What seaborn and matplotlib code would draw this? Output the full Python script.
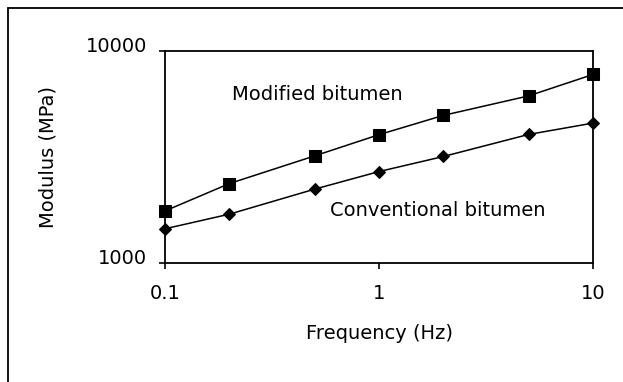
import numpy as np
import pandas as pd
import matplotlib
matplotlib.use("Agg")
import matplotlib.pyplot as plt
import matplotlib.transforms as mtransforms
from matplotlib.lines import Line2D
import seaborn as sns

# data
frequency = [0.1, 0.2, 0.5, 1, 2, 5, 10]
modified = [1760, 2370, 3200, 4030, 4970, 6140, 7750]
conventional = [1450, 1700, 2230, 2700, 3180, 4040, 4570]
x_ticks = [0.1, 1, 10]
x_tick_labels = ["0.1", "1", "10"]
y_ticks = [1000, 10000]
y_tick_labels = ["1000", "10000"]

sns.set_style("ticks")
plt.rcParams["font.family"] = ["DejaVu Sans"]
plt.rcParams["text.color"] = "black"
plt.rcParams["axes.labelcolor"] = "black"
FS = 14

fig = plt.figure(figsize=(6.23, 3.82), dpi=100)
ax = fig.add_axes([165 / 623, 1 - 263 / 382, 428 / 623, 212 / 382])

sns.lineplot(x=frequency, y=modified, ax=ax, color="black", lw=1.1,
             marker="s", markersize=8, markeredgecolor="black", clip_on=False)
sns.lineplot(x=frequency, y=conventional, ax=ax, color="black", lw=1.1,
             marker="D", markersize=6.5, markeredgecolor="black", clip_on=False)

ax.set_xscale("log")
ax.set_yscale("log")
ax.set_xlim(0.1, 10)
ax.set_ylim(1000, 10000)
ax.set_xticks(x_ticks)
ax.set_xticklabels(x_tick_labels)
ax.set_yticks(y_ticks)
ax.set_yticklabels(y_tick_labels)
ax.minorticks_off()
ax.tick_params(direction="out", length=4, width=1.2, labelsize=FS, colors="black")
ax.tick_params(axis="x", pad=11)
ax.tick_params(axis="y", pad=9)

# y tick labels sit a little above their ticks in the original
offset = mtransforms.ScaledTranslation(0, 5 / 72, fig.dpi_scale_trans)
for lab in ax.get_yticklabels():
    lab.set_transform(lab.get_transform() + offset)

for sp in ax.spines.values():
    sp.set_visible(True)
    sp.set_linewidth(1.3)
    sp.set_color("black")

ax.set_xlabel("Frequency (Hz)", fontsize=FS, labelpad=15)
ax.set_ylabel("Modulus (MPa)", fontsize=FS, labelpad=20)

ax.text(0.157, 0.795, "Modified bitumen", transform=ax.transAxes,
        fontsize=FS, va="center", ha="left", color="black")
ax.text(0.385, 0.25, "Conventional bitumen", transform=ax.transAxes,
        fontsize=FS, va="center", ha="left", color="black")

# outer frame (only left and top edges visible in the scan)
fig.add_artist(Line2D([8 / 623, 8 / 623], [0, 1 - 8 / 382], transform=fig.transFigure,
                      color="black", lw=1.3))
fig.add_artist(Line2D([8 / 623, 1], [1 - 8 / 382, 1 - 8 / 382], transform=fig.transFigure,
                      color="black", lw=1.3))

fig.savefig("out.png", dpi=100, facecolor="white")
